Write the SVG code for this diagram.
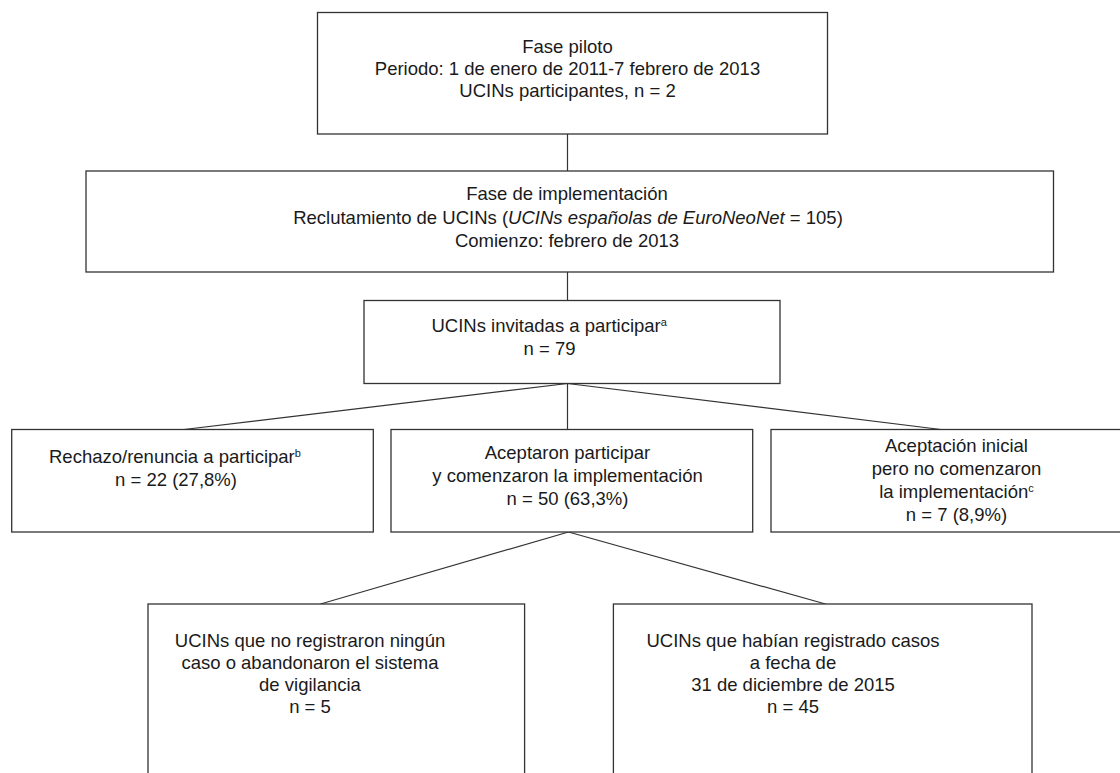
<svg xmlns="http://www.w3.org/2000/svg" width="1120" height="773" viewBox="0 0 1120 773">
<style>
.box{fill:#fff;stroke:#333;stroke-width:1.3}
.ln{fill:none;stroke:#333;stroke-width:1.2}
text{font-family:"Liberation Sans",Arial,sans-serif;font-size:18.5px;fill:#1a1a1a}
.c{text-anchor:middle}
.sup{font-size:11px}
</style>
<rect width="1120" height="773" fill="#fff"/>
<g id="connectors">
<line class="ln" x1="567.5" y1="134" x2="567.5" y2="171"/>
<line class="ln" x1="567.5" y1="272" x2="567.5" y2="300.5"/>
<line class="ln" x1="567.5" y1="383.5" x2="184" y2="429.5"/>
<line class="ln" x1="567.5" y1="383.5" x2="567.5" y2="429.5"/>
<line class="ln" x1="567.5" y1="383.5" x2="941" y2="429.5"/>
<line class="ln" x1="568.5" y1="532" x2="320.5" y2="604"/>
<line class="ln" x1="568.5" y1="532" x2="825.5" y2="604"/>
</g>
<g id="fase-piloto">
<rect class="box" x="317.5" y="12.5" width="510" height="121.5"/>
<text class="c" x="567.5" y="53">Fase piloto</text>
<text class="c" x="567.5" y="75">Periodo: 1 de enero de 2011-7 febrero de 2013</text>
<text class="c" x="567.5" y="97">UCINs participantes, n = 2</text>
</g>
<g id="fase-implementacion">
<rect class="box" x="86" y="171" width="967.5" height="101"/>
<text class="c" x="567" y="200">Fase de implementación</text>
<text class="c" x="568" y="223.5">Reclutamiento de UCINs (<tspan font-style="italic">UCINs españolas de EuroNeoNet</tspan> = 105)</text>
<text class="c" x="567" y="247">Comienzo: febrero de 2013</text>
</g>
<g id="invitadas">
<rect class="box" x="364" y="300.5" width="416" height="83"/>
<text x="431.5" y="332">UCINs invitadas a participar<tspan class="sup" dy="-6">a</tspan></text>
<text class="c" x="549.5" y="355">n = 79</text>
</g>
<g id="rechazo">
<rect class="box" x="11.7" y="429.5" width="361.6" height="102.5"/>
<text x="49" y="463">Rechazo/renuncia a participar<tspan class="sup" dy="-6">b</tspan></text>
<text class="c" x="176" y="485.5">n = 22 (27,8%)</text>
</g>
<g id="aceptaron">
<rect class="box" x="391" y="429.5" width="361.7" height="102.5"/>
<text class="c" x="567.5" y="458.5">Aceptaron participar</text>
<text class="c" x="567.5" y="481.5">y comenzaron la implementación</text>
<text class="c" x="567.5" y="504.5">n = 50 (63,3%)</text>
</g>
<g id="aceptacion-inicial">
<rect class="box" x="771" y="429.5" width="360" height="102.5"/>
<text class="c" x="956.5" y="452">Aceptación inicial</text>
<text class="c" x="956.5" y="475">pero no comenzaron</text>
<text class="c" x="956.5" y="498">la implementación<tspan class="sup" dy="-6">c</tspan></text>
<text class="c" x="956.5" y="521">n = 7 (8,9%)</text>
</g>
<g id="no-registraron">
<rect class="box" x="148" y="604" width="376.6" height="200"/>
<text class="c" x="310" y="646.5">UCINs que no registraron ningún</text>
<text class="c" x="310" y="668.5">caso o abandonaron el sistema</text>
<text class="c" x="310" y="690.5">de vigilancia</text>
<text class="c" x="310" y="713">n = 5</text>
</g>
<g id="registrado-casos">
<rect class="box" x="613.4" y="604" width="418.6" height="200"/>
<text class="c" x="793" y="646.5">UCINs que habían registrado casos</text>
<text class="c" x="793" y="668.5">a fecha de</text>
<text class="c" x="793" y="690.5">31 de diciembre de 2015</text>
<text class="c" x="793" y="713">n = 45</text>
</g>
</svg>
